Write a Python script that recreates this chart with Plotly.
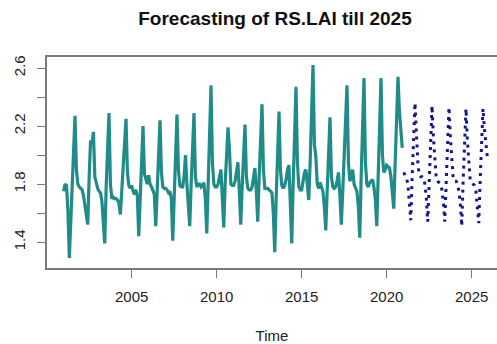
import plotly.graph_objects as go

# Monthly RS.LAI observations, Jan..Dec of each year
lai_2001 = [1.75, 1.80, 1.79, 1.62, 1.29, 1.52, 1.80, 2.05, 2.27, 1.90, 1.80, 1.78]
lai_2002 = [1.77, 1.76, 1.72, 1.65, 1.56, 1.52, 1.85, 2.10, 2.07, 2.16, 1.85, 1.80]
lai_2003 = [1.77, 1.75, 1.74, 1.68, 1.50, 1.39, 1.78, 2.05, 2.29, 1.80, 1.70, 1.71]
lai_2004 = [1.70, 1.70, 1.69, 1.67, 1.59, 1.75, 1.95, 2.10, 2.25, 1.88, 1.79, 1.77]
lai_2005 = [1.79, 1.75, 1.73, 1.76, 1.72, 1.44, 1.75, 1.98, 2.20, 1.87, 1.84, 1.80]
lai_2006 = [1.86, 1.80, 1.78, 1.75, 1.73, 1.51, 1.80, 2.05, 2.24, 1.88, 1.78, 1.77]
lai_2007 = [1.77, 1.76, 1.74, 1.75, 1.70, 1.41, 1.75, 2.05, 2.28, 1.90, 1.79, 1.78]
lai_2008 = [1.78, 1.85, 2.00, 1.80, 1.65, 1.51, 1.80, 2.05, 2.29, 1.85, 1.78, 1.80]
lai_2009 = [1.80, 1.78, 1.79, 1.81, 1.70, 1.46, 1.80, 2.15, 2.48, 1.95, 1.80, 1.78]
lai_2010 = [1.78, 1.80, 1.87, 1.90, 1.70, 1.50, 1.80, 2.00, 2.19, 2.05, 1.80, 1.79]
lai_2011 = [1.79, 1.82, 1.90, 1.95, 1.75, 1.52, 1.78, 2.00, 2.21, 1.85, 1.77, 1.76]
lai_2012 = [1.76, 1.78, 1.85, 1.91, 1.75, 1.54, 1.85, 2.10, 2.35, 1.90, 1.77, 1.77]
lai_2013 = [1.77, 1.76, 1.75, 1.74, 1.60, 1.33, 1.70, 2.00, 2.30, 1.90, 1.79, 1.77]
lai_2014 = [1.79, 1.83, 1.90, 1.93, 1.65, 1.39, 1.80, 2.15, 2.47, 1.95, 1.78, 1.76]
lai_2015 = [1.76, 1.82, 1.88, 1.90, 1.80, 1.69, 1.95, 2.30, 2.62, 2.07, 1.99, 1.80]
lai_2016 = [1.77, 1.81, 1.78, 1.75, 1.65, 1.48, 1.75, 2.00, 2.26, 1.85, 1.78, 1.77]
lai_2017 = [1.78, 1.82, 1.88, 1.72, 1.52, 1.75, 2.00, 2.25, 2.48, 1.95, 1.82, 1.85]
lai_2018 = [1.90, 1.80, 1.77, 1.75, 1.65, 1.43, 1.85, 2.20, 2.53, 1.95, 1.80, 1.78]
lai_2019 = [1.81, 1.82, 1.83, 1.78, 1.70, 1.51, 1.85, 2.20, 2.53, 2.00, 1.88, 1.90]
lai_2020 = [1.93, 1.92, 1.91, 1.85, 1.75, 1.63, 1.95, 2.25, 2.54, 2.30, 2.15, 2.05]

# Monthly forecast, Jan 2021 .. Dec 2025
fc_2021 = [1.88, 1.86, 1.84, 1.80, 1.70, 1.55, 1.85, 2.10, 2.36, 2.15, 1.95, 1.86]
fc_2022 = [1.85, 1.85, 1.84, 1.80, 1.70, 1.54, 1.85, 2.10, 2.34, 2.12, 1.95, 1.84]
fc_2023 = [1.82, 1.81, 1.80, 1.76, 1.68, 1.54, 1.85, 2.10, 2.33, 2.12, 1.95, 1.83]
fc_2024 = [1.82, 1.82, 1.80, 1.75, 1.66, 1.51, 1.83, 2.08, 2.32, 2.10, 1.95, 1.82]
fc_2025 = [1.81, 1.80, 1.79, 1.75, 1.66, 1.53, 1.83, 2.08, 2.32, 2.18, 2.08, 1.99]

obs_start = 2001
fc_start = 2021
x_ticks = [2005, 2010, 2015, 2020, 2025]
y_ticks = [1.4, 1.6, 1.8, 2.0, 2.2, 2.4, 2.6]
y_tick_text = ["1.4", "", "1.8", "", "2.2", "", "2.6"]

observed = (lai_2001 + lai_2002 + lai_2003 + lai_2004 + lai_2005 + lai_2006 + lai_2007
            + lai_2008 + lai_2009 + lai_2010 + lai_2011 + lai_2012 + lai_2013 + lai_2014
            + lai_2015 + lai_2016 + lai_2017 + lai_2018 + lai_2019 + lai_2020)
forecast = fc_2021 + fc_2022 + fc_2023 + fc_2024 + fc_2025

t_obs = [obs_start + i / 12 for i in range(len(observed))]
t_fc = [fc_start + i / 12 for i in range(len(forecast))]

FONT = "Liberation Sans, Arial, Helvetica, sans-serif"
AXIS_GREY = "#7a7a7a"

fig = go.Figure()
fig.add_trace(go.Scatter(x=t_obs, y=observed, mode="lines",
                         line=dict(color="#1F8C87", width=3.2), showlegend=False))
fig.add_trace(go.Scatter(x=t_fc, y=forecast, mode="lines",
                         line=dict(color="#16168E", width=3, dash="3px,5px"),
                         showlegend=False))

fig.update_layout(
    width=497, height=344,
    margin=dict(l=47, r=0, t=57, b=76),
    paper_bgcolor="white", plot_bgcolor="white",
    font=dict(family=FONT, size=15, color="#222"),
    title=dict(text="<b>Forecasting of RS.LAI till 2025</b>",
               font=dict(family=FONT, size=19, color="#111"),
               x=275 / 497, xanchor="center", xref="container",
               y=1 - 18 / 344, yanchor="middle", yref="container"),
)
fig.update_xaxes(
    range=[2000.02, 2026.49], tickvals=x_ticks, ticks="outside", ticklen=8,
    tickcolor=AXIS_GREY, tickwidth=1.2, showline=True, linecolor=AXIS_GREY,
    linewidth=1.5, mirror=True, showgrid=False, zeroline=False,
    ticklabelstandoff=6,
    title=dict(text="Time", standoff=27, font=dict(size=15)),
)
fig.update_yaxes(
    range=[1.221, 2.676], tickvals=y_ticks, ticktext=y_tick_text, tickangle=-90,
    ticks="outside", ticklen=8, tickcolor=AXIS_GREY, tickwidth=1.2,
    showline=True, linecolor=AXIS_GREY, linewidth=1.5, mirror=False,
    showgrid=False, zeroline=False, ticklabelstandoff=6,
)

fig.write_html("out.html")
